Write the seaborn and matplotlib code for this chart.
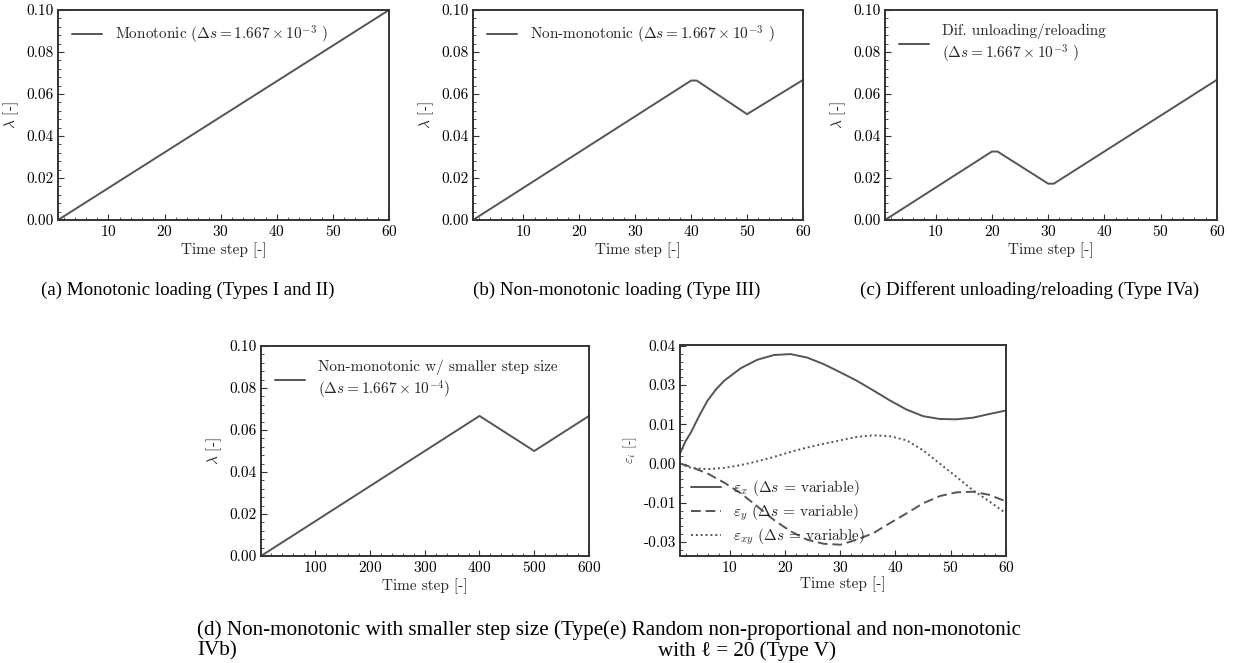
import matplotlib
matplotlib.use("Agg")
import matplotlib.pyplot as plt
import seaborn as sns
from matplotlib.ticker import MultipleLocator, AutoMinorLocator, FormatStrFormatter, FixedLocator, FixedFormatter

# ---------------- data ----------------
steps_a = [1, 60]
lam_a = [0.0, 0.1]

steps_b = [1, 40, 41, 50, 60]
lam_b = [0.0, 0.0664, 0.0664, 0.0504, 0.0667]

steps_c = [1, 20, 21, 30, 31, 60]
lam_c = [0.0, 0.0326, 0.0326, 0.0173, 0.0173, 0.0668]

steps_d = [1, 400, 500, 600]
lam_d = [0.0, 0.0667, 0.0500, 0.0667]

steps_ex = [1, 2, 3, 4.5, 6, 7.5, 9, 12, 15, 18, 21, 24, 27, 30, 33, 36, 39, 42, 45, 48, 51, 54, 57, 60]
eps_x = [0.0032, 0.0071, 0.0100, 0.0153, 0.0201, 0.0236, 0.0264, 0.0304, 0.0331, 0.0346, 0.0349,
         0.0338, 0.0317, 0.0291, 0.0264, 0.0233, 0.0201, 0.0172, 0.0151, 0.0142, 0.0141, 0.0146,
         0.0158, 0.0169]

steps_e = [1, 3, 6, 9, 12, 15, 18, 21, 24, 27, 30, 33, 36, 39, 42, 45, 48, 51, 54, 57, 60]
eps_y = [0.0, -0.0011, -0.0032, -0.0061, -0.0095, -0.0137, -0.0180, -0.0216, -0.0243, -0.0256,
         -0.0259, -0.0243, -0.0222, -0.0190, -0.0159, -0.0127, -0.0104, -0.0092, -0.0090, -0.0100, -0.0121]
eps_xy = [0.0, -0.0014, -0.0018, -0.0014, -0.0005, 0.0007, 0.0021, 0.0037, 0.0051, 0.0063,
          0.0074, 0.0085, 0.0090, 0.0087, 0.0074, 0.0042, 0.0000, -0.0042, -0.0085, -0.0121, -0.0159]

e_yticks = [-0.025, -0.0125, 0.0, 0.0125, 0.025, 0.0375]
e_yticklabels = ["-0.03", "-0.01", "0.00", "0.01", "0.03", "0.04"]

legend_a = r"Monotonic ($\Delta s = 1.667 \times 10^{-3}$ )"
legend_b = r"Non-monotonic ($\Delta s = 1.667 \times 10^{-3}$ )"
legend_c = "Dif. unloading/reloading\n" + r"($\Delta s = 1.667 \times 10^{-3}$ )"
legend_d = "Non-monotonic w/ smaller step size\n" + r"($\Delta s = 1.667 \times 10^{-4}$)"
legend_e = [r"$\varepsilon_x$ ($\Delta s$ = variable)",
            r"$\varepsilon_y$ ($\Delta s$ = variable)",
            r"$\varepsilon_{xy}$ ($\Delta s$ = variable)"]

caption_a = "(a) Monotonic loading (Types I and II)"
caption_b = "(b) Non-monotonic loading (Type III)"
caption_c = "(c) Different unloading/reloading (Type IVa)"
caption_d1 = "(d) Non-monotonic with smaller step size (Type"
caption_d2 = "IVb)"
caption_e1 = "(e) Random non-proportional and non-monotonic"
caption_e2 = "with \u2113 = 20 (Type V)"

# ---------------- style ----------------
sns.set_style("ticks")
plt.rcParams.update({
    "font.family": ["cmr10", "DejaVu Serif"],
    "mathtext.fontset": "cm",
    "axes.formatter.use_mathtext": True,
    "axes.unicode_minus": False,
    "font.size": 11,
    "axes.edgecolor": "#333333",
    "axes.linewidth": 1.4,
    "xtick.direction": "in",
    "ytick.direction": "in",
    "xtick.color": "#333333",
    "ytick.color": "#333333",
    "xtick.labelcolor": "black",
    "ytick.labelcolor": "black",
    "xtick.major.size": 4,
    "ytick.major.size": 4,
    "xtick.minor.size": 2.2,
    "ytick.minor.size": 2.2,
    "xtick.minor.visible": True,
    "ytick.minor.visible": True,
    "legend.frameon": False,
})

LC = "#555555"
LW = 1.4

W, H = 1235, 663
fig = plt.figure(figsize=(W / 100, H / 100), dpi=100)


def add_axes(left, top, right, bottom):
    return fig.add_axes([left / W, 1 - bottom / H, (right - left) / W, (bottom - top) / H])


ax_a = add_axes(58, 10, 389, 220)
ax_b = add_axes(473, 10, 803, 220)
ax_c = add_axes(885, 10, 1217, 220)
ax_d = add_axes(261, 346, 589, 556)
ax_e = add_axes(680, 345, 1006, 556)

LEG = dict(fontsize=11, handlelength=2.0, handletextpad=0.8)


def style_lambda(ax, xmax, xmajor):
    ax.set_xlim(1, xmax)
    ax.set_ylim(0, 0.1)
    ax.xaxis.set_major_locator(MultipleLocator(xmajor))
    ax.yaxis.set_major_locator(MultipleLocator(0.02))
    ax.yaxis.set_major_formatter(FormatStrFormatter("%.2f"))
    ax.xaxis.set_minor_locator(AutoMinorLocator(5))
    ax.yaxis.set_minor_locator(AutoMinorLocator(5))
    ax.set_xlabel("Time step [-]", labelpad=2)
    ax.set_ylabel(r"$\lambda$ [-]", labelpad=4)
    ax.tick_params(labelsize=11, pad=3)


for ax, xs, ys, lab in [(ax_a, steps_a, lam_a, legend_a),
                        (ax_b, steps_b, lam_b, legend_b),
                        (ax_c, steps_c, lam_c, legend_c)]:
    sns.lineplot(x=xs, y=ys, ax=ax, color=LC, lw=LW, label=lab, sort=False)
    style_lambda(ax, 60, 10)
    ax.legend(loc="upper left", borderaxespad=0.5, **LEG)

sns.lineplot(x=steps_d, y=lam_d, ax=ax_d, color=LC, lw=LW, label=legend_d, sort=False)
style_lambda(ax_d, 600, 100)
ax_d.legend(loc="upper left", borderaxespad=0.5, **LEG)

sns.lineplot(x=steps_ex, y=eps_x, ax=ax_e, color=LC, lw=LW, label=legend_e[0], sort=False)
sns.lineplot(x=steps_e, y=eps_y, ax=ax_e, color=LC, lw=LW, label=legend_e[1], sort=False,
             linestyle=(0, (5, 2.5)))
sns.lineplot(x=steps_e, y=eps_xy, ax=ax_e, color=LC, lw=LW, label=legend_e[2], sort=False,
             linestyle=(0, (1, 1.5)))
ax_e.set_xlim(1, 60)
ax_e.set_ylim(-0.0295, 0.0378)
ax_e.xaxis.set_major_locator(MultipleLocator(10))
ax_e.yaxis.set_major_locator(FixedLocator(e_yticks))
ax_e.yaxis.set_major_formatter(FixedFormatter(e_yticklabels))
ax_e.xaxis.set_minor_locator(AutoMinorLocator(5))
ax_e.yaxis.set_minor_locator(AutoMinorLocator(5))
ax_e.set_xlabel("Time step [-]", labelpad=1)
ax_e.set_ylabel(r"$\varepsilon_i$ [-]", labelpad=3, fontsize=10)
ax_e.tick_params(labelsize=11, pad=3)
ax_e.legend(loc="lower left", borderaxespad=0.3, labelspacing=0.28,
            bbox_to_anchor=(0.0, -0.01), **LEG)

# ---------------- captions ----------------
cap1 = dict(family=["Liberation Serif", "DejaVu Serif"], fontsize=13.7, color="black")
cap2 = dict(family=["Liberation Serif", "DejaVu Serif"], fontsize=15.2, color="black")
fig.text(188 / W, 1 - 290 / H, caption_a, ha="center", va="center", **cap1)
fig.text(617 / W, 1 - 290 / H, caption_b, ha="center", va="center", **cap1)
fig.text(1030 / W, 1 - 290 / H, caption_c, ha="center", va="center", **cap1)

t_d1 = fig.text(197 / W, 1 - 630 / H, caption_d1, ha="left", va="center", **cap2)
fig.text(197 / W, 1 - 651 / H, caption_d2, ha="left", va="center", **cap2)
fig.canvas.draw()
r = fig.canvas.get_renderer()
bd = t_d1.get_window_extent(r)
t_e1 = fig.text(bd.x1 / W, 1 - 630 / H, caption_e1, ha="left", va="center", **cap2)
fig.canvas.draw()
be = t_e1.get_window_extent(r)
fig.text((be.x0 + 55) / W, 1 - 651 / H, caption_e2, ha="left", va="center", **cap2)

fig.savefig("out.png", dpi=100)
